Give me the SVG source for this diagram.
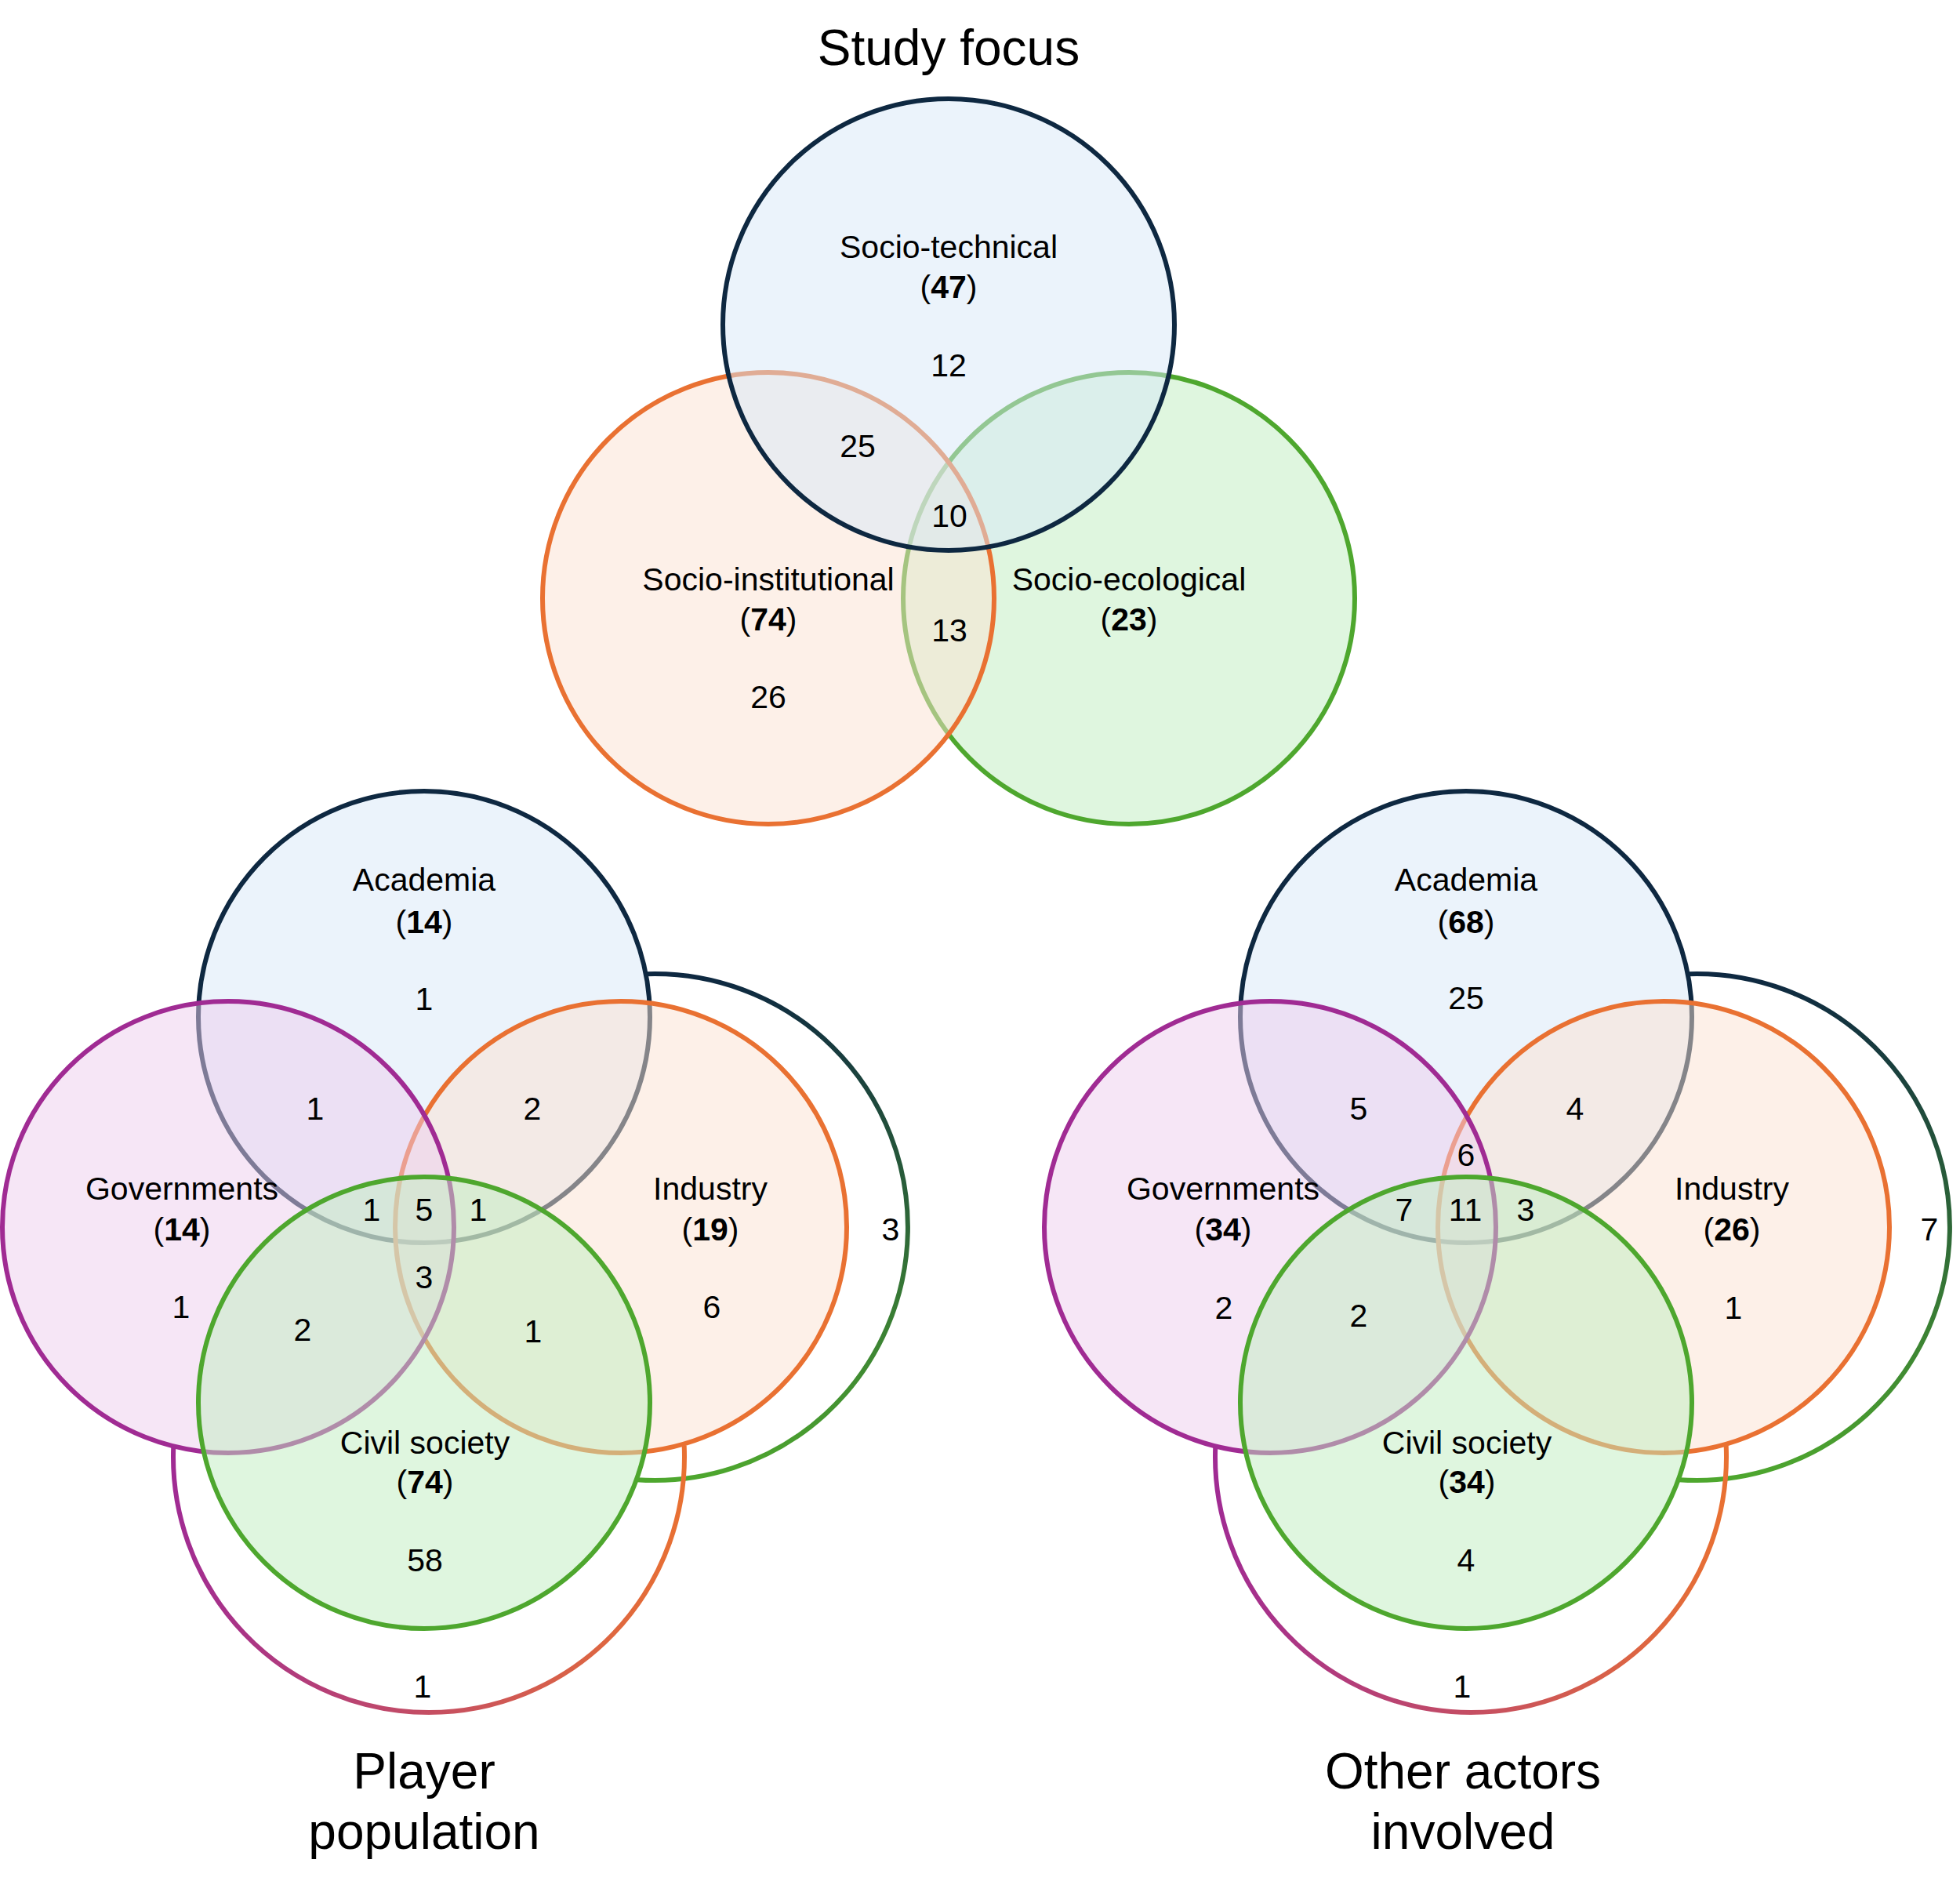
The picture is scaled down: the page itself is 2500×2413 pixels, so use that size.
<svg xmlns="http://www.w3.org/2000/svg" width="2500" height="2413" viewBox="0 0 2500 2413">
<defs>
<linearGradient id="gV" x1="0" y1="0" x2="0" y2="1"><stop offset="0" stop-color="#0e2841"/><stop offset="1" stop-color="#4ea72e"/></linearGradient>
<linearGradient id="gH" x1="0" y1="0" x2="1" y2="0"><stop offset="0" stop-color="#a02b93"/><stop offset="1" stop-color="#e97132"/></linearGradient>
<style>
.c{stroke-width:6;fill-opacity:0.5}
.blue{fill:#d7e7f7;stroke:#0e2841}
.purple{fill:#edcded;stroke:#a02b93}
.orange{fill:#fbe1d1;stroke:#e97132}
.green{fill:#bfedbf;stroke:#4ea72e}
.arcv{fill:none;stroke-width:6;stroke:url(#gV)}
.arch{fill:none;stroke-width:6;stroke:url(#gH)}
text{font-family:"Liberation Sans",Arial,Helvetica,sans-serif;font-size:41px;text-anchor:middle;fill:#000}
.t{font-size:64px}
.b{font-weight:bold}
</style>
</defs>
<rect width="2500" height="2413" fill="#ffffff"/>

<!-- Study focus -->
<g id="study-focus">
<text class="t" x="1210" y="83">Study focus</text>
<g id="socio-ecological"><circle class="c green" cx="1440" cy="763" r="288"/></g>
<g id="socio-institutional"><circle class="c orange" cx="980" cy="763" r="288"/></g>
<g id="socio-technical"><circle class="c blue" cx="1210" cy="414" r="288"/></g>
<text x="1210" y="329">Socio-technical</text>
<text x="1210" y="380">(<tspan class="b">47</tspan>)</text>
<text x="1210" y="480">12</text>
<text x="1094" y="583">25</text>
<text x="1211" y="672">10</text>
<text x="980" y="753">Socio-institutional</text>
<text x="980" y="804">(<tspan class="b">74</tspan>)</text>
<text x="1211" y="818">13</text>
<text x="980" y="903">26</text>
<text x="1440" y="753">Socio-ecological</text>
<text x="1440" y="804">(<tspan class="b">23</tspan>)</text>
</g>

<!-- Player population -->
<g id="player-population">
<g id="pp-connectors">
<path class="arcv" d="M 824 1242.2 A 323 323 0 1 1 812 1887.2"/>
<path class="arch" d="M 221.3 1844 A 326 326 0 1 0 872.7 1844"/>
</g>
<g id="pp-academia"><circle class="c blue" cx="541" cy="1297" r="288"/></g>
<g id="pp-industry"><circle class="c orange" cx="792" cy="1565" r="288"/></g>
<g id="pp-governments"><circle class="c purple" cx="291" cy="1565" r="288"/></g>
<g id="pp-civil-society"><circle class="c green" cx="541" cy="1789" r="288"/></g>
<text x="541" y="1136">Academia</text>
<text x="541" y="1190">(<tspan class="b">14</tspan>)</text>
<text x="541" y="1288">1</text>
<text x="402" y="1428">1</text>
<text x="679" y="1428">2</text>
<text x="232" y="1530">Governments</text>
<text x="232" y="1582">(<tspan class="b">14</tspan>)</text>
<text x="906" y="1530">Industry</text>
<text x="906" y="1582">(<tspan class="b">19</tspan>)</text>
<text x="474" y="1557">1</text>
<text x="541" y="1557">5</text>
<text x="610" y="1557">1</text>
<text x="541" y="1643">3</text>
<text x="231" y="1681">1</text>
<text x="908" y="1681">6</text>
<text x="1136" y="1582">3</text>
<text x="386" y="1710">2</text>
<text x="680" y="1712">1</text>
<text x="542" y="1854">Civil society</text>
<text x="542" y="1904">(<tspan class="b">74</tspan>)</text>
<text x="542" y="2004">58</text>
<text x="539" y="2165">1</text>
<text class="t" x="541" y="2281">Player</text>
<text class="t" x="541" y="2358">population</text>
</g>

<!-- Other actors involved -->
<g id="other-actors">
<g id="oa-connectors">
<path class="arcv" d="M 2153 1242.2 A 323 323 0 1 1 2141 1887.2"/>
<path class="arch" d="M 1550.3 1844 A 326 326 0 1 0 2201.7 1844"/>
</g>
<g id="oa-academia"><circle class="c blue" cx="1870" cy="1297" r="288"/></g>
<g id="oa-industry"><circle class="c orange" cx="2122" cy="1565" r="288"/></g>
<g id="oa-governments"><circle class="c purple" cx="1620" cy="1565" r="288"/></g>
<g id="oa-civil-society"><circle class="c green" cx="1870" cy="1789" r="288"/></g>
<text x="1870" y="1136">Academia</text>
<text x="1870" y="1190">(<tspan class="b">68</tspan>)</text>
<text x="1870" y="1287">25</text>
<text x="1733" y="1428">5</text>
<text x="2009" y="1428">4</text>
<text x="1870" y="1487">6</text>
<text x="1560" y="1530">Governments</text>
<text x="1560" y="1582">(<tspan class="b">34</tspan>)</text>
<text x="1791" y="1557">7</text>
<text x="1869" y="1557">11</text>
<text x="1946" y="1557">3</text>
<text x="2209" y="1530">Industry</text>
<text x="2209" y="1582">(<tspan class="b">26</tspan>)</text>
<text x="2461" y="1582">7</text>
<text x="1561" y="1682">2</text>
<text x="1733" y="1692">2</text>
<text x="2211" y="1682">1</text>
<text x="1871" y="1854">Civil society</text>
<text x="1871" y="1904">(<tspan class="b">34</tspan>)</text>
<text x="1870" y="2004">4</text>
<text x="1865" y="2165">1</text>
<text class="t" x="1866" y="2281">Other actors</text>
<text class="t" x="1866" y="2358">involved</text>
</g>
</svg>
